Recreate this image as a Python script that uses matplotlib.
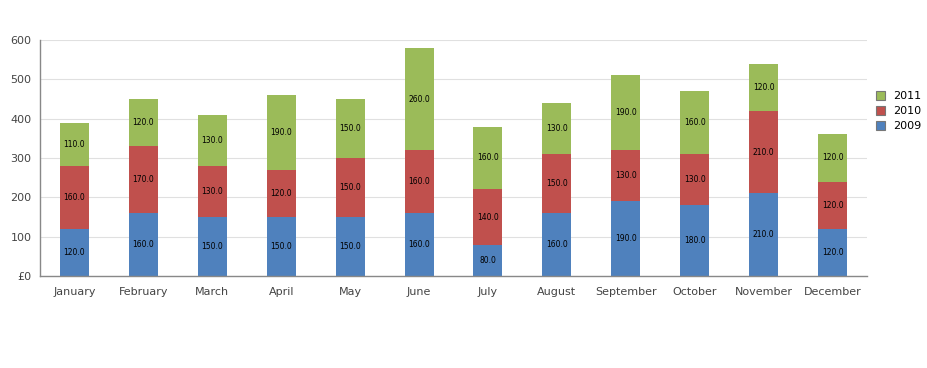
import matplotlib
matplotlib.use("Agg")
import matplotlib.pyplot as plt
import numpy as np

months = ["January", "February", "March", "April", "May", "June",
          "July", "August", "September", "October", "November", "December"]
y2009 = [120, 160, 150, 150, 150, 160, 80, 160, 190, 180, 210, 120]
y2010 = [160, 170, 130, 120, 150, 160, 140, 150, 130, 130, 210, 120]
y2011 = [110, 120, 130, 190, 150, 260, 160, 130, 190, 160, 120, 120]
yticks = [0, 100, 200, 300, 400, 500, 600]
ylabels = ["£0", "100", "200", "300", "400", "500", "600"]

colors = {"2009": "#4F81BD", "2010": "#C0504D", "2011": "#9BBB59"}

fig = plt.figure(figsize=(9.27, 3.68), dpi=100)
ax = fig.add_axes([40 / 927, 92 / 368, 827 / 927, 236 / 368])

x = np.arange(len(months))
w = 0.42
bottom = np.zeros(len(months))
bars = {}
for name, vals in [("2009", y2009), ("2010", y2010), ("2011", y2011)]:
    b = ax.bar(x, vals, w, bottom=bottom, color=colors[name], label=name, zorder=2)
    for xi, v, b0 in zip(x, vals, bottom):
        ax.text(xi, b0 + v / 2, f"{v:.1f}", ha="center", va="center",
                fontsize=5.5, color="black", zorder=3)
    bottom = bottom + np.array(vals)
    bars[name] = b

ax.set_xlim(-0.5, len(months) - 0.5)
ax.set_ylim(0, 600)
ax.set_yticks(yticks)
ax.set_yticklabels(ylabels)
ax.set_xticks(x)
ax.set_xticklabels(months)
ax.tick_params(axis="both", length=0, labelsize=8, colors="#444444")
ax.tick_params(axis="x", pad=8)
ax.tick_params(axis="y", pad=6)
ax.grid(axis="y", color="#e0e0e0", linewidth=0.8, zorder=0)
for s in ["top", "right"]:
    ax.spines[s].set_visible(False)
for s in ["left", "bottom"]:
    ax.spines[s].set_color("#888888")
    ax.spines[s].set_linewidth(1)

handles = [bars["2011"], bars["2010"], bars["2009"]]
leg = fig.legend(handles, ["2011", "2010", "2009"], loc="upper left",
                 bbox_to_anchor=(876 / 927, 1 - 91 / 368), frameon=False,
                 fontsize=8, handlelength=0.8, handleheight=0.8,
                 handletextpad=0.7, labelspacing=0.45, borderaxespad=0,
                 borderpad=0)
for h in leg.legend_handles:
    h.set_edgecolor("#777777")
    h.set_linewidth(0.8)

fig.savefig("out.png", dpi=100)
